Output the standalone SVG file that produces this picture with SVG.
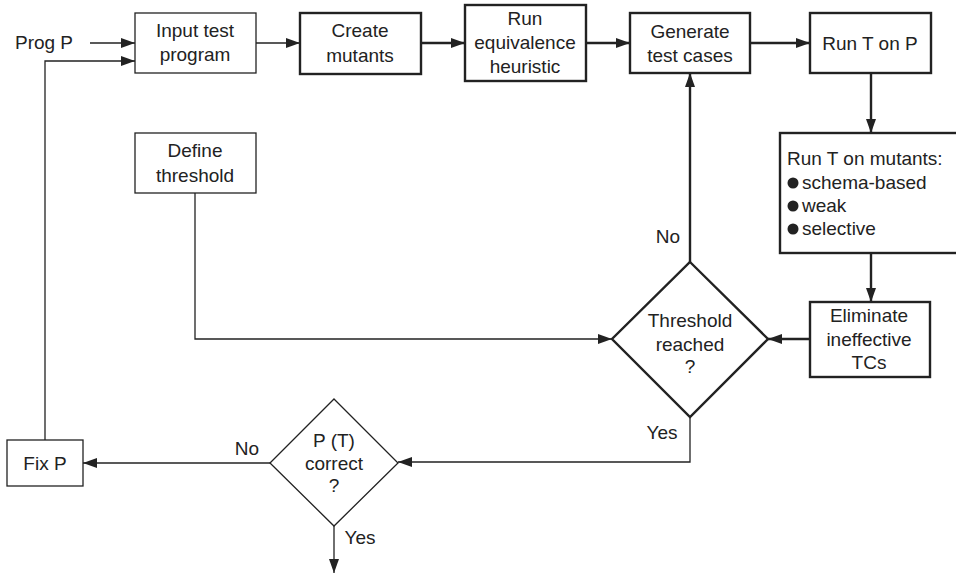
<svg xmlns="http://www.w3.org/2000/svg" width="956" height="577" viewBox="0 0 956 577">
<defs>
<marker id="ah" markerWidth="14" markerHeight="10" refX="14" refY="5" orient="auto" markerUnits="userSpaceOnUse">
<path d="M0,0 L14,5 L0,10 Z" fill="#222"/>
</marker>
</defs>
<style>
text{font-family:"Liberation Sans",Arial,Helvetica,sans-serif;font-size:19px;fill:#222;text-anchor:middle}
.l{text-anchor:start}
.thin{fill:#fff;stroke:#222;stroke-width:1.3}
.thick{fill:#fff;stroke:#222;stroke-width:2.4}
.c1{fill:none;stroke:#222;stroke-width:1.3}
.c2{fill:none;stroke:#222;stroke-width:2.4}
</style>
<rect width="956" height="577" fill="#fff"/>
<g id="connectors">
<path class="c1" d="M90,43 H135" marker-end="url(#ah)"/>
<path class="c1" d="M45,440 V61 H135" marker-end="url(#ah)"/>
<path class="c1" d="M256,43 H300" marker-end="url(#ah)"/>
<path class="c2" d="M421,43 H465" marker-end="url(#ah)"/>
<path class="c2" d="M586,43 H630" marker-end="url(#ah)"/>
<path class="c2" d="M750,43 H810" marker-end="url(#ah)"/>
<path class="c2" d="M871,73 V133" marker-end="url(#ah)"/>
<path class="c2" d="M871,253 V302" marker-end="url(#ah)"/>
<path class="c2" d="M810,339 H768" marker-end="url(#ah)"/>
<path class="c2" d="M690,262 V73" marker-end="url(#ah)"/>
<path class="c1" d="M195,193 V339 H612" marker-end="url(#ah)"/>
<path class="c1" d="M690,417 V462 H398" marker-end="url(#ah)"/>
<path class="c1" d="M270,463 H83" marker-end="url(#ah)"/>
<path class="c1" d="M334,526 V573" marker-end="url(#ah)"/>
<text x="247" y="455">No</text>
<text x="360" y="544">Yes</text>
<text x="668" y="243">No</text>
<text x="662" y="439">Yes</text>
</g>
<g id="prog-p"><text x="44" y="49">Prog P</text></g>
<g id="input"><rect class="thin" x="135" y="13" width="121" height="60"/><text x="195" y="37">Input test</text><text x="195" y="61">program</text></g>
<g id="create"><rect class="thick" x="300" y="13" width="121" height="61"/><text x="360" y="37">Create</text><text x="360" y="62">mutants</text></g>
<g id="equiv"><rect class="thick" x="465" y="5" width="121" height="76"/><text x="525" y="25">Run</text><text x="525" y="49">equivalence</text><text x="525" y="73">heuristic</text></g>
<g id="generate"><rect class="thick" x="630" y="13" width="120" height="60"/><text x="690" y="38">Generate</text><text x="690" y="62">test cases</text></g>
<g id="runtp"><rect class="thick" x="810" y="13" width="121" height="60"/><text x="870" y="50">Run T on P</text></g>
<g id="runtm"><rect class="thick" x="780" y="133" width="182" height="120"/>
<text class="l" x="787" y="165">Run T on mutants:</text>
<circle cx="793" cy="183" r="5.5" fill="#222"/><text class="l" x="802" y="189">schema-based</text>
<circle cx="793" cy="206" r="5.5" fill="#222"/><text class="l" x="802" y="212">weak</text>
<circle cx="793" cy="229" r="5.5" fill="#222"/><text class="l" x="802" y="235">selective</text>
</g>
<g id="eliminate"><rect class="thick" x="810" y="302" width="120" height="75"/><text x="869" y="322">Eliminate</text><text x="869" y="346">ineffective</text><text x="869" y="369">TCs</text></g>
<g id="threshold"><polygon class="thick" points="690,262 768,339 690,417 612,339"/><text x="690" y="327">Threshold</text><text x="690" y="351">reached</text><text x="690" y="373">?</text></g>
<g id="define"><rect class="thin" x="135" y="133" width="121" height="60"/><text x="195" y="157">Define</text><text x="195" y="182">threshold</text></g>
<g id="ptcorrect"><polygon class="thin" points="334,399 398,463 334,526 270,463"/><text x="334" y="447">P (T)</text><text x="334" y="470">correct</text><text x="334" y="492">?</text></g>
<g id="fixp"><rect class="thin" x="7" y="440" width="76" height="46"/><text x="45" y="470">Fix P</text></g>
</svg>
